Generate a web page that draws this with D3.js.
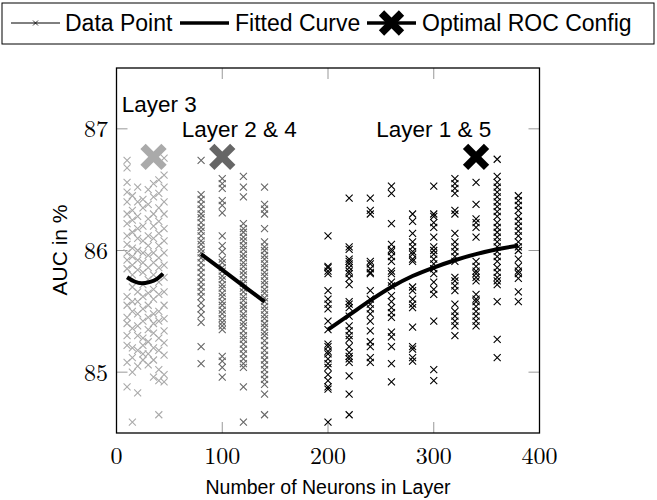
<!DOCTYPE html>
<html>
<head>
<meta charset="utf-8">
<script src="https://cdn.jsdelivr.net/npm/d3@7"></script>
<style>
  body { margin: 0; background: #fff; }
  text { font-family: "Liberation Sans", Arial, sans-serif; }
  .tick-label { font-family: "Latin Modern Roman", "Liberation Serif", "DejaVu Serif", serif; }
</style>
</head>
<body>
<script>
// Layer 3 (light gray) - AUC values per neuron count
var layer3X = [10, 15, 20, 25, 30, 35, 40, 45];
var layer3Y = [
  [86.74, 86.68, 86.56, 86.48, 86.40, 86.30, 86.22, 86.12, 86.05, 85.98, 85.92, 85.85, 85.62, 85.55, 85.45, 85.40, 85.30, 85.22, 85.08, 84.88],
  [86.45, 86.33, 86.25, 86.15, 86.02, 85.95, 85.88, 85.80, 85.70, 85.58, 85.50, 85.36, 85.20, 85.12, 85.00, 84.59],
  [86.52, 86.40, 86.28, 86.18, 86.10, 86.00, 85.92, 85.84, 85.66, 85.58, 85.48, 85.38, 85.30, 85.18, 85.05, 84.83],
  [86.42, 86.35, 86.20, 86.08, 85.98, 85.90, 85.82, 85.72, 85.62, 85.52, 85.42, 85.28, 85.22, 85.15, 85.10],
  [86.50, 86.38, 86.26, 86.12, 86.04, 85.96, 85.86, 85.76, 85.65, 85.55, 85.45, 85.35, 85.25, 85.15, 85.06],
  [86.55, 86.44, 86.30, 86.20, 86.10, 85.98, 85.90, 85.80, 85.68, 85.60, 85.48, 85.40, 85.32, 85.20, 85.10, 84.96],
  [86.58, 86.47, 86.35, 86.24, 86.14, 86.04, 85.94, 85.86, 85.74, 85.64, 85.50, 85.42, 85.28, 85.18, 85.02, 84.93, 84.65],
  [86.76, 86.62, 86.52, 86.40, 86.30, 86.18, 86.08, 85.98, 85.88, 85.78, 85.66, 85.55, 85.44, 85.34, 85.24, 85.14, 84.98, 84.92]
];

// Layer 2 & 4 (mid gray)
var layer24X = [80, 100, 120, 140];
var layer24Y = [
  [86.74, 86.46, 86.42, 86.38, 86.34, 86.30, 86.27, 86.23, 86.19, 86.16, 86.12, 86.08, 86.05, 86.01, 85.98, 85.94, 85.90, 85.86, 85.82, 85.78, 85.74, 85.70, 85.66, 85.62, 85.57, 85.52, 85.47, 85.41, 85.21, 85.07],
  [86.59, 86.55, 86.51, 86.41, 86.37, 86.31, 86.12, 86.04, 85.99, 85.93, 85.90, 85.86, 85.83, 85.79, 85.76, 85.72, 85.69, 85.65, 85.62, 85.58, 85.55, 85.51, 85.48, 85.44, 85.41, 85.38, 85.35, 85.13, 85.09, 85.04, 84.96],
  [86.61, 86.52, 86.44, 86.22, 86.18, 86.15, 86.11, 86.08, 86.04, 86.01, 85.97, 85.94, 85.90, 85.87, 85.83, 85.80, 85.76, 85.73, 85.69, 85.66, 85.62, 85.59, 85.55, 85.52, 85.48, 85.45, 85.41, 85.38, 85.34, 85.30, 85.27, 85.23, 85.19, 85.15, 85.11, 85.07, 85.04, 84.88, 84.59],
  [86.52, 86.38, 86.34, 86.30, 86.18, 86.07, 86.03, 86.00, 85.96, 85.93, 85.89, 85.86, 85.82, 85.79, 85.75, 85.72, 85.68, 85.65, 85.61, 85.58, 85.54, 85.51, 85.47, 85.44, 85.40, 85.37, 85.33, 85.30, 85.26, 85.22, 85.18, 85.14, 85.10, 85.06, 85.02, 84.98, 84.94, 84.90, 84.82, 84.65]
];

// Layer 1 & 5 (black)
var layer15X = [200, 220, 240, 260, 280, 300, 320, 340, 360, 380];
var layer15Y = [
  [86.12, 85.87, 85.83, 85.86, 85.81, 85.67, 85.60, 85.56, 85.52, 85.42, 85.35, 85.23, 85.21, 85.17, 85.15, 85.11, 85.07, 85.04, 84.98, 84.93, 84.88, 84.86, 84.59],
  [86.43, 86.03, 85.93, 85.89, 85.83, 86.01, 85.91, 85.86, 85.81, 85.77, 85.72, 85.58, 85.56, 85.53, 85.46, 85.38, 85.34, 85.30, 85.27, 85.21, 85.16, 85.13, 85.11, 85.08, 84.97, 84.82, 84.65],
  [86.43, 86.33, 86.30, 85.91, 85.89, 85.85, 85.82, 85.81, 85.67, 85.60, 85.56, 85.52, 85.48, 85.42, 85.34, 85.25, 85.21, 85.12, 85.08],
  [86.53, 86.47, 86.22, 86.05, 86.01, 85.95, 85.91, 85.83, 85.99, 85.81, 85.74, 85.71, 85.63, 85.58, 85.53, 85.49, 85.45, 85.33, 85.29, 85.21, 85.07, 84.92],
  [86.30, 86.24, 86.14, 86.07, 86.03, 85.99, 85.93, 85.91, 85.97, 85.70, 85.67, 85.60, 85.56, 85.53, 85.37, 85.21, 85.19, 85.12, 85.09],
  [86.53, 86.30, 86.28, 86.23, 86.19, 86.11, 86.03, 86.00, 85.97, 85.93, 85.89, 85.81, 85.85, 85.74, 85.68, 85.64, 85.42, 85.02, 84.93],
  [86.59, 86.55, 86.51, 86.47, 86.33, 86.30, 86.14, 86.07, 86.03, 85.99, 85.95, 85.91, 85.78, 85.75, 85.71, 85.67, 85.56, 85.50, 85.46, 85.42, 85.38, 85.30],
  [86.56, 86.38, 86.26, 86.23, 86.19, 86.11, 85.91, 85.87, 85.83, 85.81, 85.78, 85.75, 85.64, 85.60, 85.58, 85.54, 85.50, 85.46, 85.42, 85.38],
  [86.75, 86.61, 86.56, 86.52, 86.48, 86.44, 86.40, 86.36, 86.32, 86.28, 86.23, 86.19, 86.15, 86.11, 86.07, 86.03, 85.99, 85.95, 85.91, 85.86, 85.82, 85.78, 85.75, 85.72, 85.58, 85.27, 85.12],
  [86.45, 86.41, 86.37, 86.33, 86.28, 86.24, 86.20, 86.16, 86.12, 86.07, 86.03, 86.00, 85.93, 85.87, 85.83, 85.81, 85.77, 85.66, 85.58]
];

// fitted curves
var fit3X = [10, 17, 24, 31, 38, 44];
var fit3Y = [85.78, 85.745, 85.73, 85.74, 85.765, 85.81];
var fit24X = [80, 100, 120, 140];
var fit24Y = [85.97, 85.84, 85.71, 85.58];
var fit15X = [200, 220, 240, 260, 280, 300, 320, 340, 360, 380];
var fit15Y = [85.35, 85.47, 85.59, 85.70, 85.79, 85.86, 85.92, 85.97, 86.01, 86.04];

// optimal configs
var optX = [35, 100, 340];
var optY = [86.77, 86.77, 86.77];
var groupColors = ["#aaaaaa", "#666666", "#000000"];

// group labels
var labelText = ["Layer 3", "Layer 2 & 4", "Layer 1 & 5"];
var labelX = [40.5, 116, 300];
var labelY = [87.14, 86.93, 86.93];

var xTicks = [0, 100, 200, 300, 400];
var yTicks = [85, 86, 87];

var width = 657, height = 500;
var svg = d3.select("body").append("svg")
    .attr("width", width)
    .attr("height", height);

var x = d3.scaleLinear().domain([0, 400]).range([116.5, 539.5]);
var y = d3.scaleLinear().domain([84.5, 87.5]).range([433, 68]);

function xPath(s) {
  return "M" + (-s) + "," + (-s) + "L" + s + "," + s + "M" + (-s) + "," + s + "L" + s + "," + (-s);
}

// ticks (gray, inside, mirrored)
var tickG = svg.append("g").attr("stroke", "#999").attr("stroke-width", 1);
xTicks.forEach(function(t) {
  tickG.append("line").attr("x1", x(t)).attr("x2", x(t)).attr("y1", y.range()[0]).attr("y2", y.range()[0] - 11);
  tickG.append("line").attr("x1", x(t)).attr("x2", x(t)).attr("y1", y.range()[1]).attr("y2", y.range()[1] + 11);
});
yTicks.forEach(function(t) {
  tickG.append("line").attr("x1", x.range()[0]).attr("x2", x.range()[0] + 11).attr("y1", y(t)).attr("y2", y(t));
  tickG.append("line").attr("x1", x.range()[1]).attr("x2", x.range()[1] - 11).attr("y1", y(t)).attr("y2", y(t));
});

// data points
function drawGroup(xs, ys, color) {
  var pts = [];
  xs.forEach(function(xv, i) {
    ys[i].forEach(function(yv) { pts.push([xv, yv]); });
  });
  svg.append("g").selectAll("path")
    .data(pts)
    .enter().append("path")
      .attr("transform", function(d) { return "translate(" + x(d[0]) + "," + y(d[1]) + ")"; })
      .attr("d", xPath(3.5))
      .attr("fill", "none")
      .attr("stroke", color)
      .attr("stroke-width", 1.1);
}
drawGroup(layer3X, layer3Y, groupColors[0]);
drawGroup(layer24X, layer24Y, groupColors[1]);
drawGroup(layer15X, layer15Y, groupColors[2]);

// fitted curves
var line = d3.line()
    .x(function(d) { return x(d[0]); })
    .y(function(d) { return y(d[1]); })
    .curve(d3.curveMonotoneX);
[[fit3X, fit3Y], [fit24X, fit24Y], [fit15X, fit15Y]].forEach(function(f) {
  svg.append("path")
    .datum(f[0].map(function(v, i) { return [v, f[1][i]]; }))
    .attr("d", line)
    .attr("fill", "none")
    .attr("stroke", "#000")
    .attr("stroke-width", 4);
});

// optimal markers
svg.append("g").selectAll("path")
  .data(optX)
  .enter().append("path")
    .attr("transform", function(d, i) { return "translate(" + x(d) + "," + y(optY[i]) + ")"; })
    .attr("d", xPath(10.5))
    .attr("fill", "none")
    .attr("stroke", function(d, i) { return groupColors[i]; })
    .attr("stroke-width", 7.5);

// group labels
svg.append("g").selectAll("text")
  .data(labelText)
  .enter().append("text")
    .attr("x", function(d, i) { return x(labelX[i]); })
    .attr("y", function(d, i) { return y(labelY[i]); })
    .attr("text-anchor", "middle")
    .attr("font-size", 22.5)
    .text(function(d) { return d; });

// axis box
svg.append("rect")
  .attr("x", x.range()[0]).attr("y", y.range()[1])
  .attr("width", x.range()[1] - x.range()[0])
  .attr("height", y.range()[0] - y.range()[1])
  .attr("fill", "none").attr("stroke", "#000").attr("stroke-width", 1.3);

// tick labels
svg.append("g").selectAll("text")
  .data(xTicks)
  .enter().append("text")
    .attr("class", "tick-label")
    .attr("x", function(d) { return x(d); })
    .attr("y", 464)
    .attr("text-anchor", "middle")
    .attr("font-size", 24)
    .text(function(d) { return d; });
svg.append("g").selectAll("text")
  .data(yTicks)
  .enter().append("text")
    .attr("class", "tick-label")
    .attr("x", 108)
    .attr("y", function(d) { return y(d) + 8.5; })
    .attr("text-anchor", "end")
    .attr("font-size", 24)
    .text(function(d) { return d; });

// axis labels
svg.append("text")
  .attr("x", 328).attr("y", 494)
  .attr("text-anchor", "middle")
  .attr("font-size", 19.5)
  .text("Number of Neurons in Layer");
svg.append("text")
  .attr("transform", "translate(67,250) rotate(-90)")
  .attr("text-anchor", "middle")
  .attr("font-size", 21)
  .text("AUC in %");

// legend
var lg = svg.append("g");
lg.append("rect")
  .attr("x", 2).attr("y", 3).attr("width", 652).attr("height", 41)
  .attr("fill", "#fff").attr("stroke", "#000").attr("stroke-width", 1);
lg.append("line").attr("x1", 11).attr("x2", 60).attr("y1", 23).attr("y2", 23)
  .attr("stroke", "#000").attr("stroke-width", 1);
lg.append("path").attr("transform", "translate(35.5,23)").attr("d", xPath(2.5))
  .attr("stroke", "#000").attr("stroke-width", 0.8);
lg.append("text").attr("x", 65).attr("y", 31).attr("font-size", 23).text("Data Point");
lg.append("line").attr("x1", 180).attr("x2", 229).attr("y1", 23).attr("y2", 23)
  .attr("stroke", "#000").attr("stroke-width", 3.5);
lg.append("text").attr("x", 235).attr("y", 31).attr("font-size", 23).text("Fitted Curve");
lg.append("line").attr("x1", 367).attr("x2", 416).attr("y1", 23).attr("y2", 23)
  .attr("stroke", "#000").attr("stroke-width", 3.5);
lg.append("path").attr("transform", "translate(391.5,23)").attr("d", xPath(10))
  .attr("stroke", "#000").attr("stroke-width", 7.5);
lg.append("text").attr("x", 422).attr("y", 31).attr("font-size", 23).text("Optimal ROC Config");
</script>
</body>
</html>
